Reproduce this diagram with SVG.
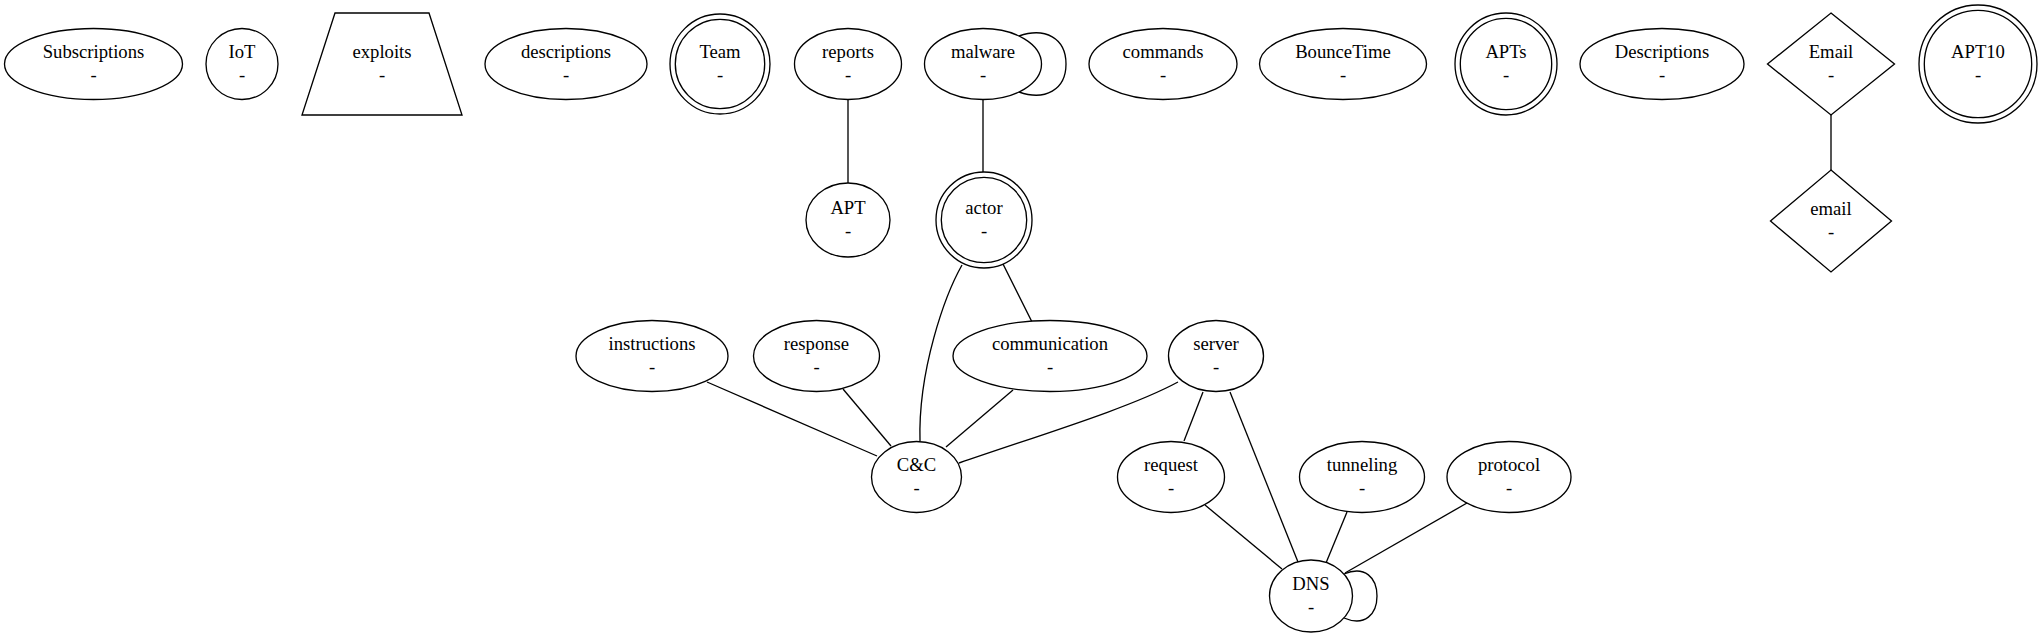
<svg xmlns="http://www.w3.org/2000/svg" width="2041" height="637" viewBox="0 0 2041 637">
<style>
.s{fill:none;stroke:#000;stroke-width:1.33}
.n{fill:#fff;stroke:#000;stroke-width:1.33}
text{font-family:"Liberation Serif","Times New Roman",serif;font-size:18.67px;text-anchor:middle;fill:#000}
</style>
<rect width="2041" height="637" fill="#fff"/>
<g id="connectors" class="s">
<path d="M848,100 L848,183"/>
<path d="M1019,36 C1045,27 1066,38 1066,64 C1066,90 1045,101 1019,92"/>
<path d="M983,100 L983,172"/>
<path d="M1831,115 L1831,170"/>
<path d="M962,265 C945,295 918,370 920,441"/>
<path d="M1003,264 L1032,322"/>
<path d="M707,382 L877,456"/>
<path d="M843,389 L891,446"/>
<path d="M1013,390 L946,447"/>
<path d="M1178,382 C1130,408 1040,435 959,463"/>
<path d="M1203,392 L1184,441"/>
<path d="M1230,392 L1298,562"/>
<path d="M1205,505 L1282,569"/>
<path d="M1347,512 L1326,563"/>
<path d="M1467,503 L1345,573"/>
<path d="M1344,574 C1365,565 1377,578 1377,596 C1377,614 1365,627 1344,618"/>
</g>
<g id="Subscriptions"><ellipse class="n" cx="93.5" cy="64" rx="89" ry="35.5"/><text x="93.5" y="58.4">Subscriptions</text><text x="93.5" y="80.8">-</text></g>
<g id="IoT"><ellipse class="n" cx="242" cy="64" rx="36" ry="35.5"/><text x="242" y="58.4">IoT</text><text x="242" y="80.8">-</text></g>
<g id="exploits"><polygon class="n" points="335,13 429,13 462,115 302,115"/><text x="382" y="58.4">exploits</text><text x="382" y="80.8">-</text></g>
<g id="descriptions"><ellipse class="n" cx="566" cy="64" rx="81" ry="35.5"/><text x="566" y="58.4">descriptions</text><text x="566" y="80.8">-</text></g>
<g id="Team"><circle class="n" cx="720" cy="64" r="50"/><circle class="n" cx="720" cy="64" r="44.7"/><text x="720" y="58.4">Team</text><text x="720" y="80.8">-</text></g>
<g id="reports"><ellipse class="n" cx="848" cy="64" rx="53.5" ry="35.5"/><text x="848" y="58.4">reports</text><text x="848" y="80.8">-</text></g>
<g id="malware"><ellipse class="n" cx="983" cy="64" rx="58.5" ry="35.5"/><text x="983" y="58.4">malware</text><text x="983" y="80.8">-</text></g>
<g id="commands"><ellipse class="n" cx="1163" cy="64" rx="74" ry="35.5"/><text x="1163" y="58.4">commands</text><text x="1163" y="80.8">-</text></g>
<g id="BounceTime"><ellipse class="n" cx="1343" cy="64" rx="83.5" ry="35.5"/><text x="1343" y="58.4">BounceTime</text><text x="1343" y="80.8">-</text></g>
<g id="APTs"><circle class="n" cx="1506" cy="64" r="51"/><circle class="n" cx="1506" cy="64" r="45.7"/><text x="1506" y="58.4">APTs</text><text x="1506" y="80.8">-</text></g>
<g id="Descriptions"><ellipse class="n" cx="1662" cy="64" rx="82" ry="35.5"/><text x="1662" y="58.4">Descriptions</text><text x="1662" y="80.8">-</text></g>
<g id="Email"><polygon class="n" points="1831,13 1894.5,64 1831,115 1767.5,64"/><text x="1831" y="58.4">Email</text><text x="1831" y="80.8">-</text></g>
<g id="APT10"><circle class="n" cx="1978" cy="64" r="59"/><circle class="n" cx="1978" cy="64" r="53.7"/><text x="1978" y="58.4">APT10</text><text x="1978" y="80.8">-</text></g>
<g id="APT"><ellipse class="n" cx="848" cy="220" rx="42" ry="37"/><text x="848" y="214.4">APT</text><text x="848" y="236.8">-</text></g>
<g id="actor"><circle class="n" cx="984" cy="220" r="48"/><circle class="n" cx="984" cy="220" r="42.7"/><text x="984" y="214.4">actor</text><text x="984" y="236.8">-</text></g>
<g id="email"><polygon class="n" points="1831,170 1891.5,221 1831,272 1770.5,221"/><text x="1831" y="215.4">email</text><text x="1831" y="237.8">-</text></g>
<g id="instructions"><ellipse class="n" cx="652" cy="356" rx="76" ry="35.5"/><text x="652" y="350.4">instructions</text><text x="652" y="372.8">-</text></g>
<g id="response"><ellipse class="n" cx="816.5" cy="356" rx="63" ry="35.5"/><text x="816.5" y="350.4">response</text><text x="816.5" y="372.8">-</text></g>
<g id="communication"><ellipse class="n" cx="1050" cy="356" rx="97" ry="35.5"/><text x="1050" y="350.4">communication</text><text x="1050" y="372.8">-</text></g>
<g id="server"><ellipse class="n" cx="1216" cy="356" rx="47.5" ry="35.5"/><text x="1216" y="350.4">server</text><text x="1216" y="372.8">-</text></g>
<g id="CC"><ellipse class="n" cx="916.5" cy="477" rx="45" ry="35.5"/><text x="916.5" y="471.4">C&amp;C</text><text x="916.5" y="493.8">-</text></g>
<g id="request"><ellipse class="n" cx="1171" cy="477" rx="53.5" ry="35.5"/><text x="1171" y="471.4">request</text><text x="1171" y="493.8">-</text></g>
<g id="tunneling"><ellipse class="n" cx="1362" cy="477" rx="62.5" ry="35.5"/><text x="1362" y="471.4">tunneling</text><text x="1362" y="493.8">-</text></g>
<g id="protocol"><ellipse class="n" cx="1509" cy="477" rx="62" ry="35.5"/><text x="1509" y="471.4">protocol</text><text x="1509" y="493.8">-</text></g>
<g id="DNS"><ellipse class="n" cx="1311" cy="596" rx="41.5" ry="36"/><text x="1311" y="590.4">DNS</text><text x="1311" y="612.8">-</text></g>
</svg>
